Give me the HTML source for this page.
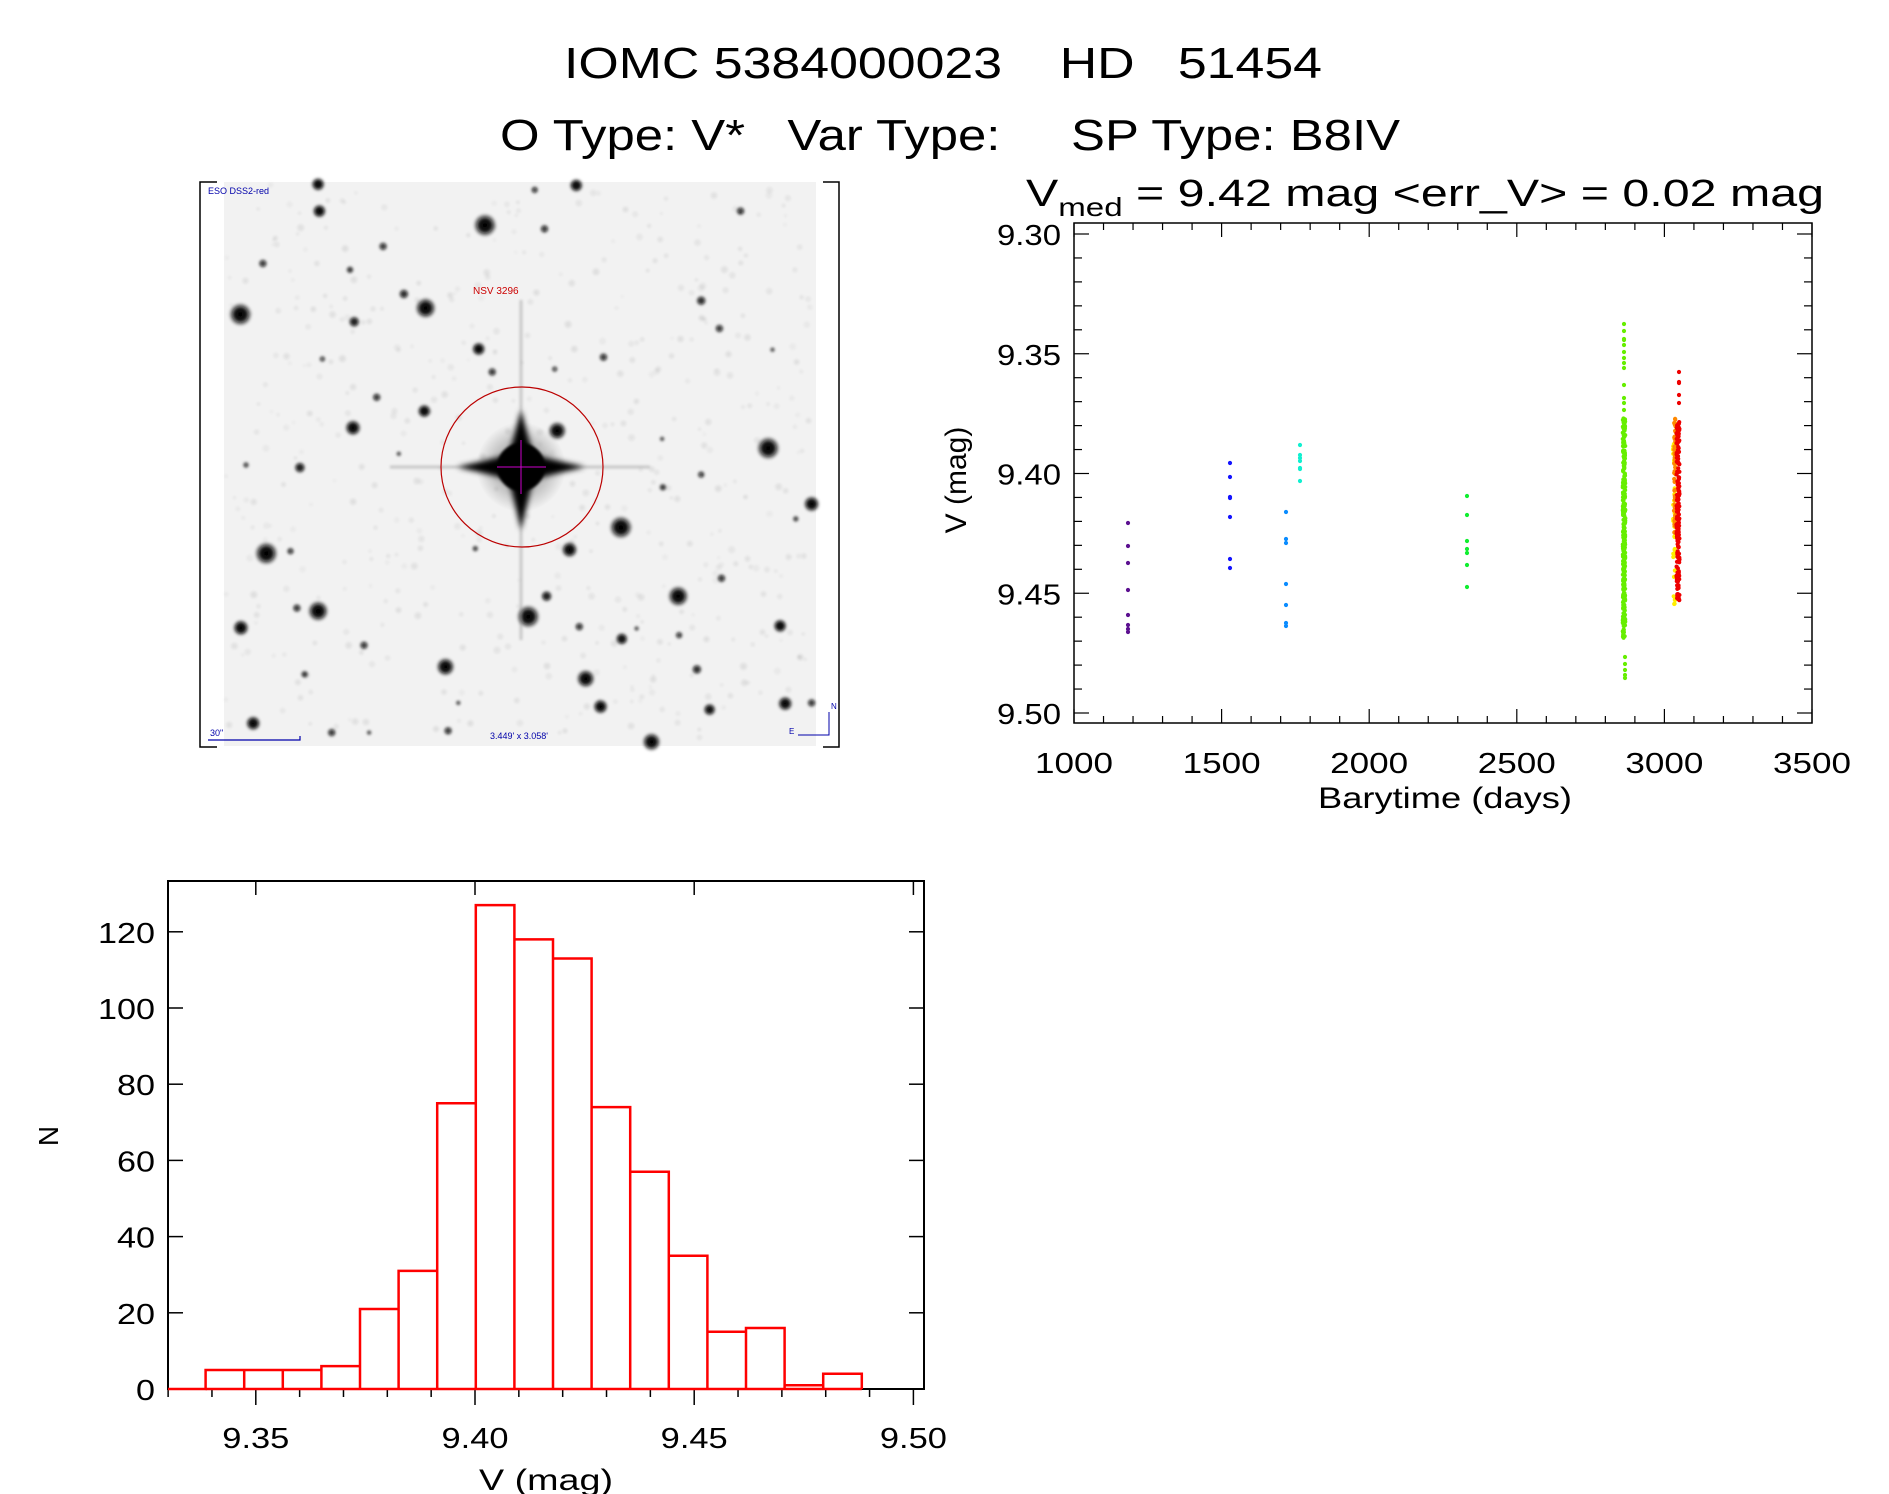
<!DOCTYPE html>
<html><head><meta charset="utf-8"><style>
html,body{margin:0;padding:0;background:#fff;}
svg{display:block;font-family:"Liberation Sans",sans-serif;}
</style></head><body>
<svg id="s" width="1889" height="1494" viewBox="0 0 1889 1494" xmlns="http://www.w3.org/2000/svg">
<defs>
<radialGradient id="st"><stop offset="0" stop-color="#000"/><stop offset="0.45" stop-color="#111"/><stop offset="1" stop-color="#000" stop-opacity="0"/></radialGradient>
<radialGradient id="halo"><stop offset="0" stop-color="#000" stop-opacity="0.5"/><stop offset="1" stop-color="#000" stop-opacity="0"/></radialGradient>
<filter id="bl"><feGaussianBlur stdDeviation="1.2"/></filter>
<filter id="bl3"><feGaussianBlur stdDeviation="3"/></filter>
</defs>
<rect width="1889" height="1494" fill="#fff"/>
<g fill="#000">
<text x="564" y="78" font-size="44" textLength="758" lengthAdjust="spacingAndGlyphs">IOMC 5384000023&#160;&#160;&#160; HD&#160;&#160; 51454</text>
<text x="500" y="150" font-size="44" textLength="900" lengthAdjust="spacingAndGlyphs">O Type: V*&#160;&#160; Var Type:&#160;&#160;&#160;&#160; SP Type: B8IV</text>
</g>
<!-- image panel -->
<rect x="224" y="182" width="592" height="564" fill="#f2f2f2"/>
<g id="stars" filter="url(#bl)"></g>
<g stroke="#000" stroke-width="1.5" fill="none">
<path d="M217 182H200V747H217"/>
<path d="M823 182H839V747H823"/>
</g>
<g stroke="#888" stroke-width="3" opacity="0.4" filter="url(#bl)">
<line x1="521" y1="300" x2="521" y2="640"/><line x1="390" y1="467" x2="650" y2="467"/>
</g>
<circle cx="521" cy="467" r="45" fill="url(#halo)"/>
<path d="M521 410 L533 455 L585 467 L533 479 L521 530 L509 479 L457 467 L509 455Z" fill="#000" filter="url(#bl3)"/>
<circle cx="521" cy="467" r="24" fill="#000" filter="url(#bl)"/>
<ellipse cx="522" cy="467" rx="81" ry="80" fill="none" stroke="#b00" stroke-width="1.2"/>
<line x1="521" y1="440" x2="521" y2="494" stroke="#c0c" stroke-width="1"/><line x1="497" y1="467" x2="546" y2="467" stroke="#c0c" stroke-width="1"/>
<text x="473" y="294" font-size="10" fill="#c00">NSV 3296</text>
<text x="208" y="194" font-size="9" fill="#00a">ESO DSS2-red</text>
<text x="210" y="736" font-size="9" fill="#00a">30"</text>
<path d="M208 740H300V736" stroke="#00a" fill="none" stroke-width="1.2"/>
<text x="490" y="739" font-size="9" fill="#00a">3.449' x 3.058'</text>
<path d="M798 735H829V712" stroke="#00a" fill="none" stroke-width="1"/>
<text x="831" y="709" font-size="8" fill="#00a">N</text><text x="789" y="734" font-size="8" fill="#00a">E</text>
<!-- light curve -->
<text x="1026" y="206" font-size="38" textLength="798" lengthAdjust="spacingAndGlyphs">V<tspan font-size="26" dy="10">med</tspan><tspan dy="-10">&#160;= 9.42 mag &lt;err_V&gt; = 0.02 mag</tspan></text>
<g id="lc"></g>
<text transform="translate(966,480) rotate(-90)" font-size="30" text-anchor="middle">V (mag)</text>
<text x="1318" y="808" font-size="30" textLength="254" lengthAdjust="spacingAndGlyphs">Barytime (days)</text>
<!-- histogram -->
<g id="hist"></g>
<text transform="translate(58,1136) rotate(-90)" font-size="28" text-anchor="middle">N</text>
<text x="479" y="1490" font-size="30" textLength="134" lengthAdjust="spacingAndGlyphs">V (mag)</text>
</svg>
<script>
var NS="http://www.w3.org/2000/svg";
function el(p,t,a,txt){var e=document.createElementNS(NS,t);for(var k in a)e.setAttribute(k,a[k]);if(txt!==undefined)e.textContent=txt;p.appendChild(e);return e;}
var seed=7;function rnd(){seed=(seed*16807)%2147483647;return (seed-1)/2147483646;}
var S=[[290,25,12],[293,97,12],[683,135,20],[823,145,8],[898,28,12],[443,192,8],[160,238,8],[365,255,7],[1285,97,8],[107,375,20],[543,358,18],[492,320,9],[375,395,10],[1192,338,9],[1235,413,8],[668,468,12],[962,490,8],[700,530,8],[847,522,6],[428,598,8],[540,635,12],[372,680,14],[853,688,16],[1350,735,20],[247,787,10],[1192,806,7],[1102,840,7],[1452,885,14],[1003,948,20],[168,1018,20],[225,1012,7],[882,1008,14],[1138,1133,18],[290,1173,18],[240,1165,8],[828,1133,10],[785,1188,20],[108,1218,14],[905,1215,8],[1378,1213,12],[1005,1248,11],[1240,1085,8],[398,1265,8],[590,1323,16],[1182,1330,9],[920,1355,16],[258,1343,7],[955,1430,13],[1212,1438,11],[1390,1422,13],[137,1475,13],[596,1495,8],[1075,1525,16],[322,1500,8],[1452,1420,8],[800,40,7],[1415,925,6],[1140,1238,7],[660,1005,6],[300,495,6],[120,780,6],[480,750,5],[1360,470,5],[1100,710,5],[620,1420,5],[1040,1220,5],[410,1500,5]];
var g=document.getElementById('stars');
S.forEach(function(s){var x=195+s[0]/2.355,y=175+s[1]/2.69;if(x<226||x>814)return;var r=s[2]/2.0;
el(g,'circle',{cx:x.toFixed(1),cy:y.toFixed(1),r:(r*1.2).toFixed(1),fill:'url(#st)',opacity:Math.min(1,0.35+r/9).toFixed(2)});});
for(var i=0;i<500;i++){el(g,'circle',{cx:(226+rnd()*586).toFixed(1),cy:(184+rnd()*560).toFixed(1),r:(1.5+rnd()*2).toFixed(1),fill:'#000',opacity:(0.03+rnd()*0.05).toFixed(2)});}
var lc=document.getElementById('lc');
function X(t){return 1074+(t-1000)*0.2952;}function Y(v){return 234+(v-9.3)*2395;}
el(lc,'rect',{x:1074,y:223,width:738,height:500,fill:'none',stroke:'#000','stroke-width':1.5});
for(var t=1000;t<=3500;t+=100){var maj=(t%500==0);var x=X(t);
el(lc,'line',{x1:x,y1:723,x2:x,y2:723-(maj?14:7),stroke:'#000','stroke-width':1.2});
el(lc,'line',{x1:x,y1:223,x2:x,y2:223+(maj?14:7),stroke:'#000','stroke-width':1.2});
if(maj)el(lc,'text',{x:x,y:773,'font-size':29,'text-anchor':'middle',textLength:78,lengthAdjust:'spacingAndGlyphs'},String(t));}
for(var k=0;k<=20;k++){var v=9.3+k*0.01,y=Y(v),maj=(k%5==0);
el(lc,'line',{x1:1074,y1:y,x2:1074+(maj?15:8),y2:y,stroke:'#000','stroke-width':1.2});
el(lc,'line',{x1:1812,y1:y,x2:1812-(maj?15:8),y2:y,stroke:'#000','stroke-width':1.2});
if(maj)el(lc,'text',{x:1061,y:y+11,'font-size':29,'text-anchor':'end',textLength:64,lengthAdjust:'spacingAndGlyphs'},v.toFixed(2));}
function dot(x,y,c){el(lc,'circle',{cx:x.toFixed(1),cy:y.toFixed(1),r:2.1,fill:c});}
[523,546,563,590,615,625,629,632].forEach(function(y){dot(1128,y,'#5c1090');});
[463,477,497,498,517,559,568].forEach(function(y){dot(1230,y,'#1414ff');});
[512,539,543,584,605,623,626].forEach(function(y){dot(1286,y,'#0a8cff');});
[445,455,458,461,468,469,481].forEach(function(y){dot(1300,y,'#10f0d0');});
[496,515,541,549,553,565,587].forEach(function(y){dot(1467,y,'#10ee30');});
[324,331,339,340,345,352,358,363,368,385,398,403,410].forEach(function(y){dot(1624,y,'#66ee00');});
for(var i=0;i<320;i++){var y=418+rnd()*220;dot(1624+(rnd()-0.5)*2.5,y,'#66ee00');}
[657,664,670,675,678].forEach(function(y){dot(1625,y,'#66ee00');});
for(var i=0;i<40;i++){dot(1674+(rnd()-0.5)*2,443+rnd()*164,'#ffee00');}
for(var i=0;i<60;i++){dot(1675+(rnd()-0.5)*2,418+rnd()*115,'#ff8800');}
[372,382,383,395,403].forEach(function(y){dot(1679,y,'#ee0000');});
for(var i=0;i<170;i++){dot(1678+(rnd()-0.5)*3,422+rnd()*182,'#ee0000');}
var h=document.getElementById('hist');
function HX(v){return 475+(v-9.40)*4384;}function HY(n){return 1389-n*3.81;}
el(h,'rect',{x:168,y:881,width:756,height:508,fill:'none',stroke:'#000','stroke-width':2});
for(var k=-7;k<=10;k++){var v=9.40+k*0.01,x=HX(v);if(x<168||x>925)continue;var maj=(Math.abs(k)%5==0);
el(h,'line',{x1:x,y1:1389,x2:x,y2:1389+(maj?16:8),stroke:'#000','stroke-width':1.5});
if(maj){el(h,'line',{x1:x,y1:881,x2:x,y2:895,stroke:'#000','stroke-width':1.5});
el(h,'text',{x:x,y:1448,'font-size':29,'text-anchor':'middle',textLength:67,lengthAdjust:'spacingAndGlyphs'},v.toFixed(2));}}
for(var n=0;n<=120;n+=20){var y=HY(n);
el(h,'line',{x1:168,y1:y,x2:183,y2:y,stroke:'#000','stroke-width':1.5});
el(h,'line',{x1:924,y1:y,x2:909,y2:y,stroke:'#000','stroke-width':1.5});
var s=String(n);el(h,'text',{x:155,y:y+11,'font-size':29,'text-anchor':'end',textLength:19*s.length,lengthAdjust:'spacingAndGlyphs'},s);}
var cnt=[5,5,5,6,21,31,75,127,118,113,74,57,35,15,16,1,4];var x0=205.6,w=38.6;
var d='M168 1389H'+x0;
cnt.forEach(function(c,i){var xl=x0+i*w,xr=xl+w;d+=' V'+HY(c).toFixed(1)+' H'+xr.toFixed(1)+' V1389 ';if(i<cnt.length-1)d+='M'+xr.toFixed(1)+' '+HY(c).toFixed(1)+' ';});
el(h,'path',{d:d,fill:'none',stroke:'#f00','stroke-width':2.5});
el(h,'line',{x1:x0,y1:1389,x2:x0+17*w,y2:1389,stroke:'#f00','stroke-width':2.5});
</script>
</body></html>
